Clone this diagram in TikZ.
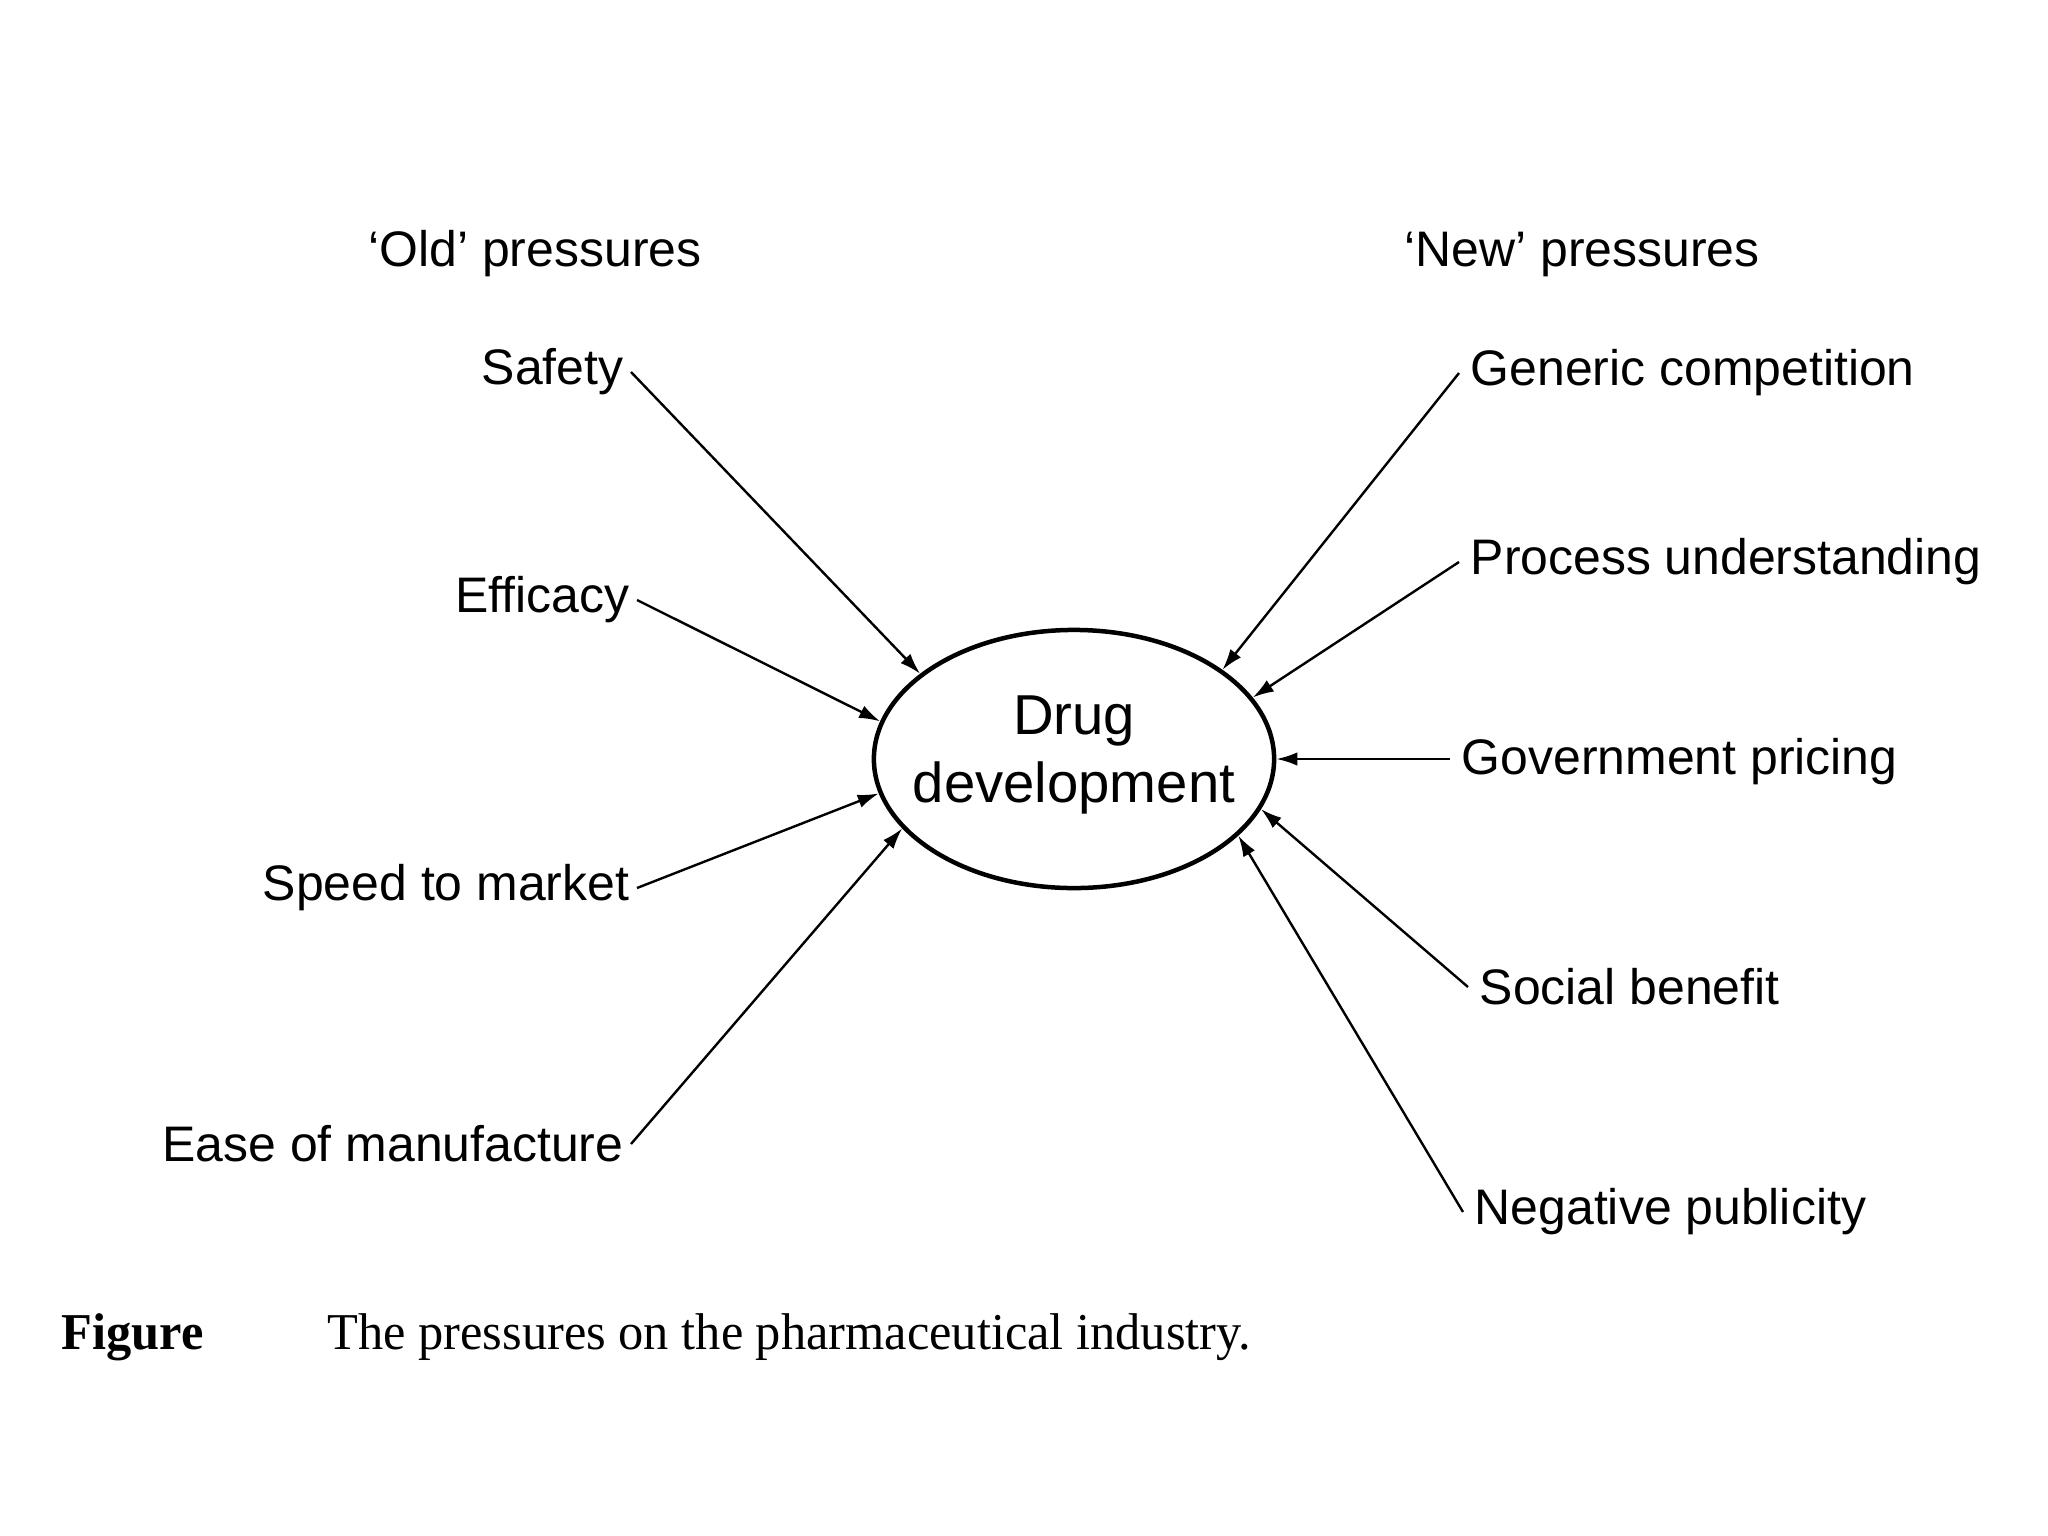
\documentclass[tikz,border=0pt]{standalone}
\usepackage{fontspec}
\setmainfont{Liberation Sans}
\newfontfamily\capfont[FakeStretch=0.975]{Liberation Serif}
\usetikzlibrary{shapes.geometric,arrows.meta}
\begin{document}
\begin{tikzpicture}[x=0.01cm,y=-0.01cm,
  lbl/.style={inner sep=0.07cm,font=\fontsize{14.2}{17}\selectfont},
  rlbl/.style={lbl,inner xsep=0.11cm},
  head/.style={inner sep=0pt,font=\fontsize{14.2}{17}\selectfont},
  pressure/.style={line width=0.024cm,-{Latex[length=2.1mm,width=1.35mm]}},
  hub/.style={ellipse,draw,line width=0.045cm,minimum width=4cm,minimum height=2.58cm,inner sep=0pt},
  hubtext/.style={inner sep=0pt,align=center,font=\fontsize{16}{19.35}\selectfont}]
\useasboundingbox (0,0) rectangle (2048,1536);
\fill[white] (0,0) rectangle (2048,1536);
% centre
\node[hub] (dd) at (1074,759) {};
\node[hubtext] (ddtext) at (1074,755) {Drug\\development};
% headings
\node[head,anchor=base] (oldh) at (535,266) {`Old' pressures};
\node[head,anchor=base] (newh) at (1582,266) {`New' pressures};
% old pressures
\node[lbl,anchor=east] (safety) at (631,372) {Safety};
\node[lbl,anchor=east] (efficacy) at (637,600) {Efficacy};
\node[lbl,anchor=east] (speed) at (637,888) {Speed to market};
\node[lbl,anchor=east] (ease) at (631,1144) {Ease of manufacture};
% new pressures
\node[rlbl,anchor=west] (generic) at (1459,373) {Generic competition};
\node[rlbl,anchor=west] (process) at (1459,562) {Process understanding};
\node[rlbl,anchor=west,text height=1.1em,text depth=0.21em] (gov) at (1450,759) {Government pricing};
\node[rlbl,anchor=west] (social) at (1468,987) {Social benefit};
\node[rlbl,anchor=west] (negative) at (1463,1212) {Negative publicity};
% connectors
\draw[pressure] (safety.east) -- (dd.151);
\draw[pressure] (efficacy.east) -- (dd.169);
\draw[pressure] (speed.east) -- (dd.190);
\draw[pressure] (ease.east) -- (dd.202);
\draw[pressure] (generic.west) -- (dd.31);
\draw[pressure] (process.west) -- (dd.19);
\draw[pressure] (gov.west) -- (dd.0);
\draw[pressure] (social.west) -- (dd.-15);
\draw[pressure] (negative.west) -- (dd.-25);
% caption
\node[inner sep=0pt,anchor=base west,font=\capfont\bfseries\fontsize{14.7}{17}\selectfont] (figlab) at (61,1349) {Figure};
\node[inner sep=0pt,anchor=base west,font=\capfont\fontsize{14.7}{17}\selectfont] (figcap) at (327,1349) {The pressures on the pharmaceutical industry.};
\end{tikzpicture}
\end{document}
